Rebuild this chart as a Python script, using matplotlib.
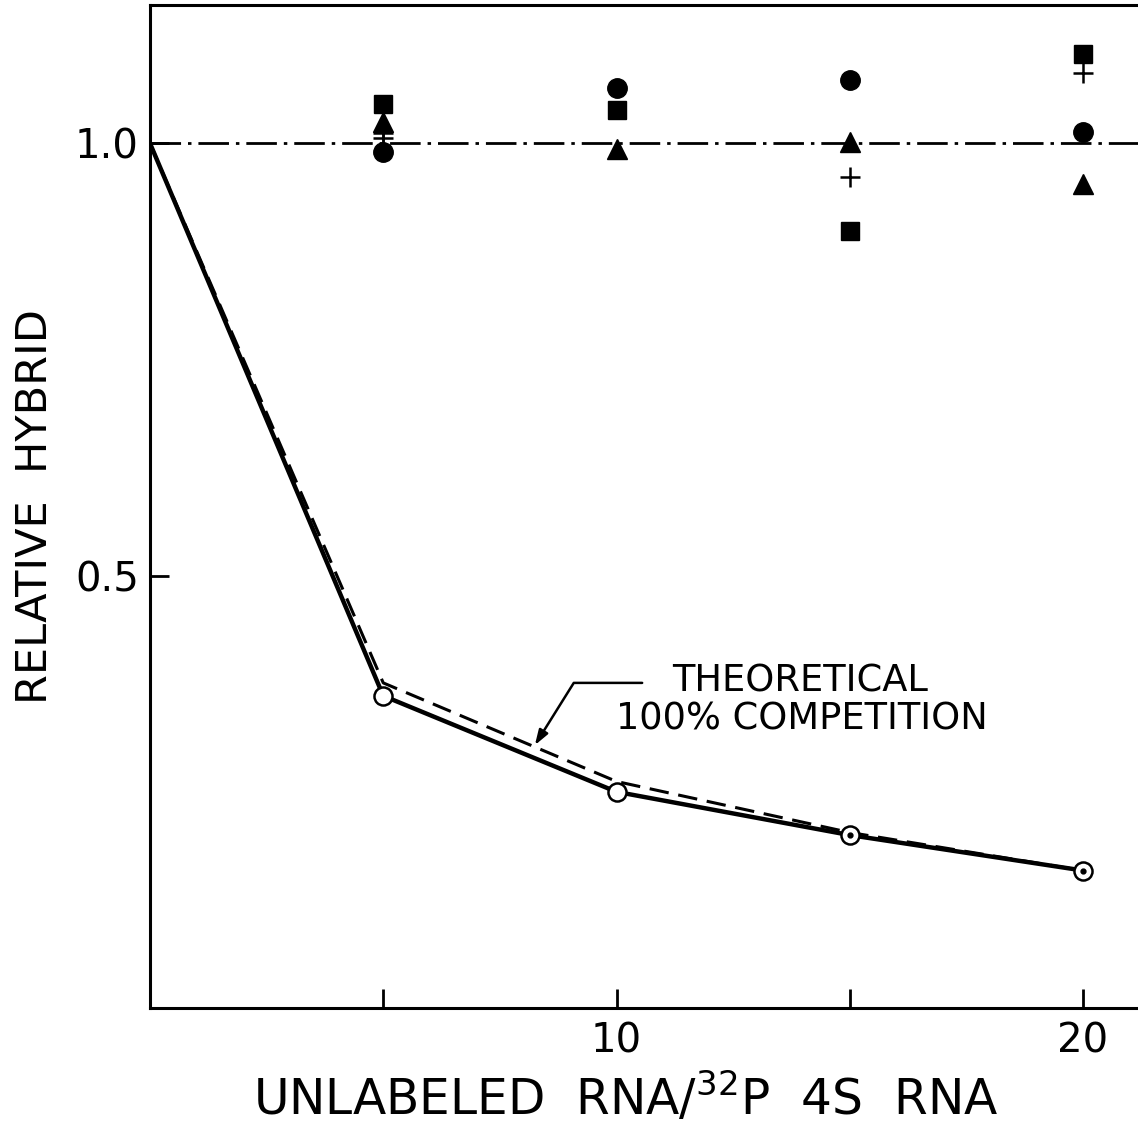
import numpy as np
import matplotlib.pyplot as plt

plt.rcParams['font.family'] = ['DejaVu Sans']
plt.rcParams['lines.scale_dashes'] = False

# observed competition curve (open circles)
ratio = [0, 5, 10, 15, 20]
observed = [1.0, 0.361, 0.250, 0.200, 0.159]
# theoretical 100% competition (dashed)
theoretical = [1.0, 0.376, 0.262, 0.203, 0.159]

# non-competing RNAs, plotted at each ratio
sq_x = [5, 10, 15, 20]
sq_y = [1.045, 1.039, 0.899, 1.103]
tri_x = [5, 10, 15, 20]
tri_y = [1.025, 0.993, 1.002, 0.953]
circ_x = [5, 10, 15, 20]
circ_y = [0.990, 1.064, 1.073, 1.013]
plus_x = [5, 5, 15, 20]
plus_y = [1.012, 1.006, 0.961, 1.081]

xticks = [5, 10, 15, 20]
xticklabels = ['', '10', '', '20']
yticks = [0.5, 1.0]
yticklabels = ['0.5', '1.0']

fig = plt.figure(figsize=(11.38, 11.31), dpi=100)
ax = fig.add_axes([150/1138, 123/1131, 1 - 150/1138, 1003/1131])

ax.axhline(1.0, color='black', lw=2.0, ls=(0, (22, 5, 2.5, 5)), zorder=1)

ax.plot(ratio, theoretical, color='black', lw=2.2, ls=(0, (14, 7)), zorder=2)
ax.plot(ratio, observed, color='black', lw=3.2, zorder=3)
ax.plot(ratio[1:], observed[1:], ls='none', marker='o', ms=13, mfc='white',
        mec='black', mew=1.8, zorder=4)
ax.plot(ratio[3:], observed[3:], ls='none', marker='o', ms=3.5, color='black', zorder=5)

ax.plot(sq_x, sq_y, ls='none', marker='s', ms=12.5, color='black', zorder=4)
ax.plot(tri_x, tri_y, ls='none', marker='^', ms=14, color='black', zorder=4)
ax.plot(circ_x, circ_y, ls='none', marker='o', ms=14, color='black', zorder=4)
ax.plot(plus_x, plus_y, ls='none', marker='+', ms=14, mew=1.8, color='black', zorder=4)

ax.annotate('', xy=(8.25, 0.304), xytext=(10.55, 0.376),
            arrowprops=dict(arrowstyle='-|>,head_length=0.9,head_width=0.3',
                            color='black', lw=1.8, shrinkA=0, shrinkB=0,
                            connectionstyle='angle,angleA=0,angleB=58'))
ax.text(11.2, 0.378, 'THEORETICAL', fontsize=26.5, va='center', ha='left')
ax.text(10.0, 0.334, '100% COMPETITION', fontsize=26.5, va='center', ha='left')

ax.set_xlim(0, 988/46.65)
ax.set_ylim(0, 1.16)
ax.set_xticks(xticks)
ax.set_xticklabels(xticklabels, fontsize=29)
ax.set_yticks(yticks)
ax.set_yticklabels(yticklabels, fontsize=29)
ax.tick_params(direction='in', length=14, width=2.0, pad=10)
ax.tick_params(axis='y', pad=8)

for side in ['left', 'bottom', 'top']:
    ax.spines[side].set_linewidth(2.2)
ax.spines['right'].set_visible(False)

ax.set_xlabel('UNLABELED  RNA/$^{32}$P  4S  RNA', fontsize=35, va='center')
ax.xaxis.set_label_coords(0.482, -0.090)
ax.set_ylabel('RELATIVE  HYBRID', fontsize=31, labelpad=14)

fig.savefig('out.png', dpi=100)
